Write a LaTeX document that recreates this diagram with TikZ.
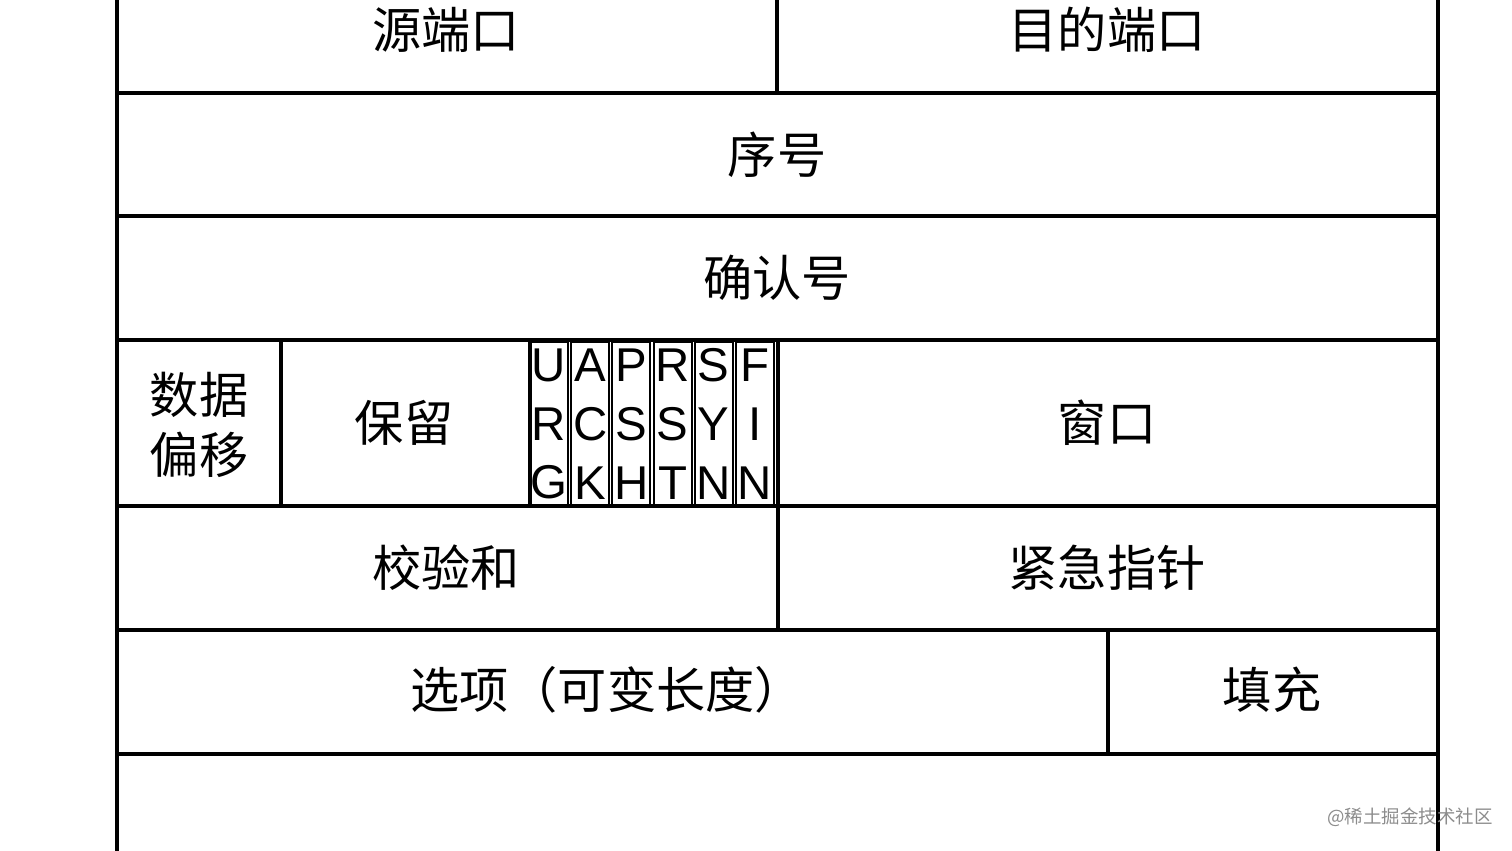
\documentclass[tikz,border=0pt]{standalone}
\usepackage{fontspec}
\newfontfamily\cjk{Noto Sans CJK SC}
\newfontfamily\flagfont{Liberation Sans}
\begin{document}
\begin{tikzpicture}[x=0.02cm,y=-0.02cm,
	rowline/.style={line width=1.9pt},
	flagline/.style={line width=1.2pt},
	label/.style={font=\cjk\fontsize{28}{34}\selectfont,align=center,inner sep=0pt},
	flag/.style={font=\flagfont\fontsize{27}{33.5}\selectfont,align=center,inner sep=0pt},
	wmark/.style={font=\cjk\fontsize{10.5}{12}\selectfont,text=black!45,inner sep=0pt}]
		\useasboundingbox (0,0) rectangle (1512,851);
		\clip (0,0) rectangle (1512,851);
		
		%rows
		\foreach \ya/\yb in {-40/93, 93/216, 216/340, 340/506, 506/630, 630/754, 754/900}{
			\draw[rowline] (117,\ya) rectangle (1438,\yb);
		}
		
		%column splits
		\draw[rowline] (777,-40) -- (777,93);
		\draw[rowline] (281,340) -- (281,506);
		\draw[rowline] (530,340) -- (530,506);
		\draw[rowline] (778,340) -- (778,630);
		\draw[rowline] (1108,630) -- (1108,754);
		
		%flags
		\foreach \f [count=\i from 0] in {{U\\R\\G}, {A\\C\\K}, {P\\S\\H}, {R\\S\\T}, {S\\Y\\N}, {F\\I\\N}}{
			\draw[flagline] ({530+41.2*\i},342) rectangle ({568+41.2*\i},505);
			\node[flag] (flag\i) at ({549+41.2*\i},424) {\f};
		}
		
		%fields
		\node[label] (src) at (446,30) {源端口};
		\node[label] (dst) at (1107,30) {目的端口};
		\node[label] (seq) at (777,155) {序号};
		\node[label] (ack) at (777,278) {确认号};
		\node[label] (offset) at (199,425) {数据\\偏移};
		\node[label] (resv) at (404,423) {保留};
		\node[label] (win) at (1107,423) {窗口};
		\node[label] (chk) at (446,568) {校验和};
		\node[label] (urgptr) at (1107,568) {紧急指针};
		\node[label] (opt) at (607,690) {选项（可变长度）};
		\node[label] (pad) at (1272,690) {填充};
		
		\node[wmark] (wm) at (1410,817) {@稀土掘金技术社区};
		\end{tikzpicture}
\end{document}
